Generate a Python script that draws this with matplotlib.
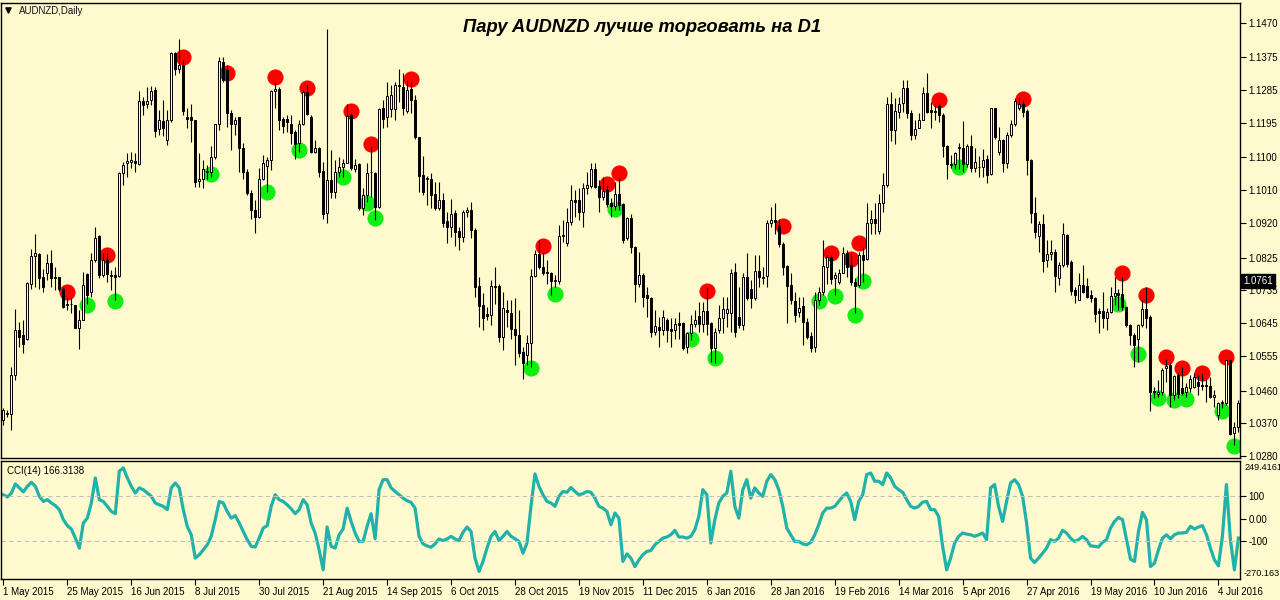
import numpy as np
import matplotlib
matplotlib.use('Agg')
import matplotlib.pyplot as plt

plt.rcParams['font.family'] = ['Liberation Sans', 'DejaVu Sans']

####################################################################################################

date_labels = ['1 May 2015', '25 May 2015', '16 Jun 2015', '8 Jul 2015', '30 Jul 2015', '21 Aug 2015',
               '14 Sep 2015', '6 Oct 2015', '28 Oct 2015', '19 Nov 2015', '11 Dec 2015', '6 Jan 2016',
               '28 Jan 2016', '19 Feb 2016', '14 Mar 2016', '5 Apr 2016', '27 Apr 2016', '19 May 2016',
               '10 Jun 2016', '4 Jul 2016']

price_labels = ['1.1470', '1.1375', '1.1285', '1.1195', '1.1100', '1.1010', '1.0920',
                '1.0825', '1.0735', '1.0645', '1.0555', '1.0460', '1.0370', '1.0280']

opens = [
    1.0379, 1.0399, 1.0395, 1.0504, 1.0626, 1.0612, 1.0603, 1.0754, 1.0830, 1.0834,
    1.0772, 1.0784, 1.0809, 1.0772, 1.0771, 1.0738, 1.0694, 1.0699, 1.0694, 1.0633,
    1.0655, 1.0780, 1.0731, 1.0818, 1.0884, 1.0777, 1.0818, 1.0777, 1.0777, 1.0775,
    1.1056, 1.1086, 1.1088, 1.1090, 1.1082, 1.1255, 1.1246, 1.1257, 1.1285, 1.1177,
    1.1200, 1.1149, 1.1203, 1.1388, 1.1344, 1.1353, 1.1210, 1.1210, 1.1203, 1.1036,
    1.1040, 1.1063, 1.1061, 1.1100, 1.1191, 1.1363, 1.1340, 1.1221, 1.1193, 1.1210,
    1.1125, 1.1061, 1.1003, 1.0957, 1.0937, 1.1040, 1.1077, 1.1093, 1.1282, 1.1289,
    1.1206, 1.1206, 1.1192, 1.1170, 1.1140, 1.1193, 1.1280, 1.1212, 1.1116, 1.1125,
    1.1063, 1.0948, 1.1038, 1.1006, 1.1059, 1.1073, 1.1086, 1.1216, 1.1067, 1.1082,
    1.0960, 1.0997, 1.1059, 1.1056, 1.0965, 1.1235, 1.1212, 1.1232, 1.1232, 1.1299,
    1.1294, 1.1228, 1.1287, 1.1259, 1.1155, 1.1052, 1.1040, 1.1040, 1.1001, 1.0960,
    1.0983, 1.0925, 1.0908, 1.0948, 1.0899, 1.0882, 1.0949, 1.0955, 1.0902, 1.0747,
    1.0695, 1.0669, 1.0667, 1.0747, 1.0747, 1.0606, 1.0681, 1.0672, 1.0628, 1.0612,
    1.0567, 1.0557, 1.0590, 1.0774, 1.0834, 1.0798, 1.0786, 1.0782, 1.0762, 1.0761,
    1.0884, 1.0866, 1.0923, 1.0983, 1.0983, 1.0951, 1.1017, 1.1022, 1.1067, 1.1022,
    1.0992, 1.1010, 1.0974, 1.0967, 1.1001, 1.0971, 1.0878, 1.0933, 1.0855, 1.0754,
    1.0777, 1.0722, 1.0713, 1.0622, 1.0635, 1.0626, 1.0654, 1.0628, 1.0626, 1.0645,
    1.0645, 1.0580, 1.0617, 1.0644, 1.0664, 1.0644, 1.0678, 1.0645, 1.0576, 1.0626,
    1.0660, 1.0672, 1.0672, 1.0786, 1.0663, 1.0640, 1.0771, 1.0740, 1.0715, 1.0789,
    1.0773, 1.0774, 1.0919, 1.0928, 1.0912, 1.0862, 1.0802, 1.0750, 1.0706, 1.0676,
    1.0692, 1.0649, 1.0610, 1.0580, 1.0708, 1.0731, 1.0800, 1.0826, 1.0768, 1.0759,
    1.0784, 1.0837, 1.0804, 1.0759, 1.0750, 1.0832, 1.0820, 1.0919, 1.0930, 1.0899,
    1.0974, 1.1024, 1.1246, 1.1175, 1.1226, 1.1250, 1.1291, 1.1223, 1.1161, 1.1182,
    1.1204, 1.1278, 1.1230, 1.1228, 1.1241, 1.1216, 1.1131, 1.1081, 1.1081, 1.1125,
    1.1125, 1.1082, 1.1131, 1.1070, 1.1075, 1.1073, 1.1095, 1.1054, 1.1235, 1.1116,
    1.1148, 1.1085, 1.1163, 1.1191, 1.1237, 1.1248, 1.1228, 1.1093, 1.0948, 1.0884,
    1.0916, 1.0818, 1.0834, 1.0841, 1.0768, 1.0806, 1.0887, 1.0812, 1.0736, 1.0710,
    1.0750, 1.0748, 1.0722, 1.0713, 1.0678, 1.0679, 1.0658, 1.0676, 1.0719, 1.0727,
    1.0725, 1.0690, 1.0640, 1.0612, 1.0601, 1.0640, 1.0683, 1.0663, 1.0459, 1.0452,
    1.0457, 1.0521, 1.0530, 1.0448, 1.0502, 1.0466, 1.0457, 1.0466, 1.0471, 1.0484,
    1.0475, 1.0475, 1.0473, 1.0443, 1.0393, 1.0425, 1.0425, 1.0544, 1.0344, 1.0361]

highs = [
    1.0411, 1.0406, 1.0525, 1.0683, 1.0649, 1.0654, 1.0759, 1.0850, 1.0891, 1.0838,
    1.0795, 1.0834, 1.0846, 1.0800, 1.0773, 1.0745, 1.0713, 1.0713, 1.0695, 1.0681,
    1.0786, 1.0782, 1.0837, 1.0910, 1.0887, 1.0837, 1.0837, 1.0791, 1.0800, 1.1061,
    1.1088, 1.1111, 1.1116, 1.1113, 1.1282, 1.1267, 1.1294, 1.1296, 1.1294, 1.1230,
    1.1259, 1.1230, 1.1390, 1.1390, 1.1425, 1.1367, 1.1235, 1.1248, 1.1204, 1.1113,
    1.1093, 1.1079, 1.1131, 1.1193, 1.1375, 1.1375, 1.1353, 1.1230, 1.1212, 1.1212,
    1.1140, 1.1067, 1.1010, 1.0983, 1.1070, 1.1106, 1.1102, 1.1285, 1.1308, 1.1294,
    1.1212, 1.1216, 1.1216, 1.1175, 1.1203, 1.1285, 1.1299, 1.1216, 1.1148, 1.1130,
    1.1088, 1.1454, 1.1120, 1.1093, 1.1102, 1.1097, 1.1248, 1.1221, 1.1095, 1.1084,
    1.1015, 1.1084, 1.1129, 1.1061, 1.1235, 1.1257, 1.1308, 1.1299, 1.1308, 1.1344,
    1.1331, 1.1312, 1.1308, 1.1271, 1.1157, 1.1104, 1.1049, 1.1056, 1.1033, 1.1033,
    1.1003, 1.0951, 1.0985, 1.0955, 1.0908, 1.0955, 1.0965, 1.0978, 1.0905, 1.0773,
    1.0727, 1.0690, 1.0763, 1.0800, 1.0754, 1.0731, 1.0708, 1.0708, 1.0713, 1.0681,
    1.0580, 1.0612, 1.0795, 1.0846, 1.0873, 1.0837, 1.0818, 1.0786, 1.0777, 1.0914,
    1.0928, 1.0960, 1.1024, 1.1010, 1.1015, 1.1029, 1.1061, 1.1084, 1.1084, 1.1038,
    1.1047, 1.1024, 1.0988, 1.1033, 1.1042, 1.0976, 1.0937, 1.0946, 1.0857, 1.0841,
    1.0782, 1.0745, 1.0718, 1.0681, 1.0663, 1.0681, 1.0658, 1.0658, 1.0658, 1.0676,
    1.0649, 1.0622, 1.0667, 1.0681, 1.0704, 1.0704, 1.0745, 1.0649, 1.0631, 1.0695,
    1.0718, 1.0718, 1.0795, 1.0809, 1.0745, 1.0782, 1.0837, 1.0763, 1.0832, 1.0832,
    1.0800, 1.0928, 1.0965, 1.0974, 1.0930, 1.0869, 1.0805, 1.0782, 1.0731, 1.0718,
    1.0718, 1.0658, 1.0622, 1.0731, 1.0745, 1.0873, 1.0832, 1.0832, 1.0786, 1.0795,
    1.0855, 1.0846, 1.0837, 1.0768, 1.0841, 1.0855, 1.0974, 1.0955, 1.0974, 1.1001,
    1.1056, 1.1267, 1.1280, 1.1262, 1.1267, 1.1312, 1.1314, 1.1230, 1.1203, 1.1221,
    1.1294, 1.1331, 1.1253, 1.1244, 1.1248, 1.1221, 1.1134, 1.1106, 1.1116, 1.1140,
    1.1201, 1.1137, 1.1161, 1.1125, 1.1104, 1.1122, 1.1106, 1.1237, 1.1237, 1.1184,
    1.1152, 1.1170, 1.1203, 1.1262, 1.1267, 1.1259, 1.1232, 1.1095, 1.0992, 1.0925,
    1.0946, 1.0873, 1.0873, 1.0850, 1.0814, 1.0921, 1.0891, 1.0818, 1.0745, 1.0782,
    1.0805, 1.0768, 1.0736, 1.0718, 1.0686, 1.0731, 1.0686, 1.0745, 1.0773, 1.0738,
    1.0773, 1.0692, 1.0644, 1.0617, 1.0644, 1.0708, 1.0745, 1.0667, 1.0471, 1.0489,
    1.0521, 1.0548, 1.0535, 1.0502, 1.0507, 1.0525, 1.0480, 1.0502, 1.0509, 1.0502,
    1.0507, 1.0493, 1.0498, 1.0461, 1.0430, 1.0434, 1.0544, 1.0548, 1.0374, 1.0434]

lows = [
    1.0365, 1.0388, 1.0353, 1.0489, 1.0580, 1.0562, 1.0600, 1.0740, 1.0745, 1.0738,
    1.0731, 1.0763, 1.0745, 1.0736, 1.0734, 1.0686, 1.0681, 1.0672, 1.0631, 1.0573,
    1.0654, 1.0699, 1.0718, 1.0814, 1.0768, 1.0773, 1.0759, 1.0736, 1.0708, 1.0773,
    1.1024, 1.1047, 1.1070, 1.1061, 1.1079, 1.1216, 1.1235, 1.1244, 1.1157, 1.1161,
    1.1159, 1.1134, 1.1198, 1.1326, 1.1331, 1.1216, 1.1180, 1.1143, 1.1018, 1.1020,
    1.1015, 1.1040, 1.1047, 1.1097, 1.1175, 1.1308, 1.1184, 1.1120, 1.1161, 1.1061,
    1.1042, 1.0997, 1.0930, 1.0893, 1.0933, 1.1038, 1.1006, 1.1065, 1.1237, 1.1175,
    1.1166, 1.1170, 1.1138, 1.1097, 1.1116, 1.1189, 1.1216, 1.1111, 1.1111, 1.1047,
    1.0930, 1.0919, 1.0988, 1.0988, 1.1047, 1.1047, 1.1084, 1.1065, 1.1061, 1.0956,
    1.0942, 1.0978, 1.0992, 1.0928, 1.0960, 1.1182, 1.1184, 1.1212, 1.1203, 1.1253,
    1.1216, 1.1221, 1.1221, 1.1152, 1.1006, 1.0997, 1.0969, 1.0960, 1.0956, 1.0956,
    1.0910, 1.0864, 1.0882, 1.0857, 1.0846, 1.0869, 1.0937, 1.0878, 1.0718, 1.0635,
    1.0626, 1.0654, 1.0640, 1.0699, 1.0594, 1.0571, 1.0635, 1.0603, 1.0530, 1.0553,
    1.0493, 1.0530, 1.0525, 1.0772, 1.0795, 1.0777, 1.0754, 1.0722, 1.0745, 1.0754,
    1.0869, 1.0857, 1.0914, 1.0937, 1.0928, 1.0910, 1.1001, 1.1015, 1.1015, 1.0951,
    1.0983, 1.0965, 1.0937, 1.0956, 1.0956, 1.0866, 1.0873, 1.0837, 1.0704, 1.0745,
    1.0690, 1.0663, 1.0608, 1.0612, 1.0580, 1.0612, 1.0594, 1.0580, 1.0603, 1.0603,
    1.0571, 1.0562, 1.0599, 1.0635, 1.0622, 1.0622, 1.0612, 1.0539, 1.0535, 1.0617,
    1.0617, 1.0635, 1.0622, 1.0606, 1.0631, 1.0626, 1.0708, 1.0686, 1.0708, 1.0745,
    1.0754, 1.0745, 1.0910, 1.0891, 1.0855, 1.0777, 1.0646, 1.0699, 1.0649, 1.0663,
    1.0585, 1.0603, 1.0567, 1.0567, 1.0695, 1.0722, 1.0754, 1.0754, 1.0722, 1.0754,
    1.0782, 1.0773, 1.0750, 1.0672, 1.0745, 1.0759, 1.0818, 1.0891, 1.0891, 1.0891,
    1.0951, 1.1020, 1.1146, 1.1137, 1.1207, 1.1226, 1.1207, 1.1148, 1.1152, 1.1180,
    1.1203, 1.1221, 1.1180, 1.1203, 1.1198, 1.1102, 1.1042, 1.1070, 1.1067, 1.1067,
    1.1061, 1.1074, 1.1061, 1.1061, 1.1047, 1.1047, 1.1031, 1.1052, 1.1152, 1.1106,
    1.1061, 1.1070, 1.1157, 1.1186, 1.1230, 1.1212, 1.1052, 1.0921, 1.0878, 1.0841,
    1.0786, 1.0800, 1.0818, 1.0731, 1.0750, 1.0800, 1.0800, 1.0722, 1.0701, 1.0708,
    1.0729, 1.0713, 1.0704, 1.0649, 1.0617, 1.0631, 1.0626, 1.0672, 1.0695, 1.0681,
    1.0681, 1.0635, 1.0585, 1.0525, 1.0539, 1.0635, 1.0631, 1.0405, 1.0439, 1.0443,
    1.0448, 1.0484, 1.0416, 1.0434, 1.0439, 1.0448, 1.0443, 1.0457, 1.0466, 1.0448,
    1.0461, 1.0429, 1.0439, 1.0416, 1.0379, 1.0411, 1.0420, 1.0338, 1.0310, 1.0347]

closes = [
    1.0408, 1.0395, 1.0504, 1.0626, 1.0608, 1.0587, 1.0756, 1.0829, 1.0837, 1.0770,
    1.0745, 1.0809, 1.0770, 1.0768, 1.0738, 1.0690, 1.0699, 1.0697, 1.0633, 1.0654,
    1.0750, 1.0722, 1.0818, 1.0880, 1.0777, 1.0818, 1.0780, 1.0775, 1.0773, 1.1056,
    1.1079, 1.1090, 1.1093, 1.1086, 1.1255, 1.1244, 1.1255, 1.1282, 1.1173, 1.1203,
    1.1180, 1.1204, 1.1388, 1.1344, 1.1353, 1.1228, 1.1206, 1.1203, 1.1033, 1.1042,
    1.1067, 1.1060, 1.1102, 1.1191, 1.1364, 1.1312, 1.1221, 1.1193, 1.1204, 1.1125,
    1.1061, 1.1003, 1.0957, 1.0937, 1.1040, 1.1084, 1.1093, 1.1282, 1.1289, 1.1204,
    1.1186, 1.1198, 1.1168, 1.1138, 1.1193, 1.1280, 1.1219, 1.1116, 1.1125, 1.1061,
    1.0944, 1.1038, 1.1006, 1.1059, 1.1073, 1.1086, 1.1214, 1.1070, 1.1079, 1.0960,
    1.0997, 1.1056, 1.1061, 1.0965, 1.1232, 1.1205, 1.1268, 1.1271, 1.1299, 1.1296,
    1.1235, 1.1285, 1.1259, 1.1155, 1.1050, 1.1006, 1.1043, 1.0997, 1.0960, 1.0983,
    1.0921, 1.0908, 1.0944, 1.0896, 1.0882, 1.0949, 1.0955, 1.0902, 1.0745, 1.0692,
    1.0658, 1.0665, 1.0747, 1.0744, 1.0606, 1.0686, 1.0676, 1.0628, 1.0612, 1.0562,
    1.0535, 1.0590, 1.0774, 1.0834, 1.0798, 1.0784, 1.0782, 1.0762, 1.0764, 1.0884,
    1.0888, 1.0923, 1.0983, 1.0979, 1.0951, 1.1017, 1.1024, 1.1067, 1.1020, 1.0992,
    1.1008, 1.0971, 1.0967, 1.1001, 1.0969, 1.0873, 1.0933, 1.0855, 1.0754, 1.0777,
    1.0718, 1.0713, 1.0622, 1.0637, 1.0626, 1.0661, 1.0626, 1.0624, 1.0644, 1.0640,
    1.0576, 1.0617, 1.0644, 1.0655, 1.0644, 1.0678, 1.0644, 1.0576, 1.0622, 1.0660,
    1.0683, 1.0683, 1.0783, 1.0620, 1.0640, 1.0773, 1.0713, 1.0713, 1.0789, 1.0773,
    1.0770, 1.0919, 1.0928, 1.0923, 1.0862, 1.0800, 1.0747, 1.0708, 1.0667, 1.0688,
    1.0649, 1.0608, 1.0576, 1.0708, 1.0731, 1.0802, 1.0826, 1.0765, 1.0777, 1.0784,
    1.0837, 1.0800, 1.0759, 1.0747, 1.0832, 1.0818, 1.0919, 1.0930, 1.0919, 1.0974,
    1.1024, 1.1246, 1.1175, 1.1227, 1.1248, 1.1291, 1.1223, 1.1161, 1.1177, 1.1203,
    1.1278, 1.1225, 1.1225, 1.1225, 1.1216, 1.1131, 1.1081, 1.1078, 1.1111, 1.1128,
    1.1082, 1.1131, 1.1070, 1.1088, 1.1073, 1.1093, 1.1052, 1.1235, 1.1155, 1.1148,
    1.1085, 1.1163, 1.1191, 1.1255, 1.1248, 1.1225, 1.1093, 1.0948, 1.0896, 1.0916,
    1.0816, 1.0834, 1.0840, 1.0774, 1.0806, 1.0889, 1.0807, 1.0734, 1.0722, 1.0750,
    1.0731, 1.0716, 1.0713, 1.0670, 1.0674, 1.0658, 1.0676, 1.0719, 1.0727, 1.0722,
    1.0690, 1.0640, 1.0612, 1.0585, 1.0640, 1.0683, 1.0658, 1.0457, 1.0455, 1.0457,
    1.0516, 1.0528, 1.0448, 1.0500, 1.0452, 1.0454, 1.0471, 1.0493, 1.0496, 1.0473,
    1.0473, 1.0473, 1.0443, 1.0448, 1.0425, 1.0430, 1.0544, 1.0342, 1.0359, 1.0427]

cci = [
    107, 97, 115, 156, 138, 120, 145, 163, 145, 100,
    77, 85, 70, 58, 40, -5, -32, -47, -88, -133,
    -20, 2, 70, 183, 85, 77, 55, 32, 22, 213,
    228, 183, 145, 115, 138, 130, 115, 100, 70, 62,
    55, 40, 138, 160, 138, 40, -35, -73, -178, -163,
    -141, -118, -80, -5, 77, 70, 32, 2, 13, -20,
    -58, -95, -125, -128, -88, -43, -32, 55, 107, 85,
    77, 62, 44, 22, 40, 85, 62, -20, -65, -141,
    -231, -38, -125, -133, -73, -47, 47, -13, -65, -103,
    -103, -35, 22, -91, 130, 175, 175, 138, 122, 107,
    92, 80, 73, 47, -80, -114, -123, -129, -114, -92,
    -99, -92, -80, -92, -99, -62, -38, -58, -178, -238,
    -193, -133, -80, -58, -99, -80, -58, -80, -91, -103,
    -156, -110, 55, 201, 145, 107, 77, 70, 55, 100,
    122, 118, 140, 122, 107, 112, 122, 118, 92, 55,
    47, 32, -28, 25, 2, -193, -159, -178, -216, -186,
    -163, -148, -144, -118, -103, -88, -83, -73, -53, -83,
    -83, -88, -80, -50, 10, 130, 107, -110, -5, 70,
    100, 115, 213, 55, 2, 130, 175, 92, 138, 115,
    100, 168, 198, 175, 130, 55, -43, -73, -103, -103,
    -114, -118, -107, -73, -28, 25, 47, 47, 55, 77,
    100, 115, 77, -5, 77, 107, 198, 205, 168, 168,
    153, 205, 183, 145, 130, 118, 85, 55, 47, 55,
    74, 77, 40, 40, 10, -125, -231, -178, -110, -80,
    -65, -70, -73, -80, -73, -65, -95, 138, 153, 55,
    -13, 77, 160, 175, 153, 100, -20, -178, -198, -178,
    -156, -133, -95, -103, -88, -53, -65, -88, -103, -95,
    -80, -95, -123, -125, -128, -107, -95, -43, -13, 5,
    -5, -95, -183, -193, -58, 28, -5, -216, -201, -141,
    -88, -73, -91, -73, -65, -65, -62, -35, -47, -38,
    -32, -73, -133, -186, -213, -80, 153, -95, -231, -88]

red_bars = [16, 26, 45, 56, 68, 76, 87, 92, 102, 135, 151, 154, 176, 195, 207, 212, 214,
            234, 255, 280, 286, 291, 295, 300, 306]
red_prices = [1.0731, 1.0832, 1.1376, 1.1332, 1.1321, 1.1291, 1.1228, 1.1137, 1.1315, 1.0857,
              1.1026, 1.1056, 1.0734, 1.0912, 1.0839, 1.0820, 1.0864, 1.1257, 1.1261, 1.0783,
              1.0723, 1.0553, 1.0523, 1.0507, 1.0553]
green_bars = [21, 28, 52, 66, 74, 85, 91, 93, 132, 138, 153, 172, 178, 204, 208, 213, 215,
              239, 279, 284, 289, 293, 296, 305, 308]
green_prices = [1.0695, 1.0706, 1.1054, 1.1005, 1.1120, 1.1047, 1.0974, 1.0933, 1.0521, 1.0725,
                1.0958, 1.0603, 1.0550, 1.0706, 1.0721, 1.0668, 1.0761, 1.1074, 1.0697, 1.0560,
                1.0441, 1.0434, 1.0438, 1.0405, 1.0308]

####################################################################################################

BG = '#FFFACD'
W, H = 1280., 600.

def box(x0, y0, x1, y1):
    return [x0 / W, 1 - y1 / H, (x1 - x0) / W, (y1 - y0) / H]

fig = plt.figure(figsize=(12.8, 6), dpi=100, facecolor=BG)
ax = fig.add_axes(box(1, 3, 1240, 458), facecolor=BG)
ax2 = fig.add_axes(box(1, 461, 1240, 579), facecolor=BG)

o = np.array(opens)
h = np.array(highs)
l = np.array(lows)
c = np.array(closes)
x = np.arange(len(c))
up = c >= o

ax.vlines(x, l, h, color='black', linewidth=0.8, zorder=3)
ax.bar(x, np.abs(c - o), bottom=np.minimum(o, c), width=0.5,
       color=np.where(up, BG, 'black'), edgecolor='black', linewidth=0.7, zorder=4)

ax.scatter(red_bars, red_prices, s=135, color='#FF0000', linewidths=0, zorder=2)
ax.scatter(green_bars, green_prices, s=135, color='#11EE11', linewidths=0, zorder=2)

ax.set_xlim(-0.6, 309.4)
ax.set_ylim(1.0275, 1.1524)
ax.set_xticks([])
ax.yaxis.tick_right()
ax.set_yticks([float(p) for p in price_labels])
ax.set_yticklabels(price_labels)
ax.tick_params(axis='y', direction='out', length=4, width=0.8, pad=2, labelsize=7)
for s in ax.spines.values():
    s.set_linewidth(1.0)

ax.scatter([0.006], [0.985], marker='v', s=14, color='black', transform=ax.transAxes)
fig.text(19 / W, 1 - 11 / H, 'AUDNZD,Daily', fontsize=7, va='center', color='#111111')
fig.text(642 / W, 1 - 28 / H, 'Пару AUDNZD лучше торговать на D1', ha='center', va='center',
         fontsize=13.2, fontweight='bold', fontstyle='italic')
fig.text(1243 / W, 1 - 281 / H, '1.0761', fontsize=7, va='center', color='white',
         bbox=dict(boxstyle='square,pad=0.22', fc='black', ec='black'))

# CCI panel
ax2.plot(x, cci, color='#20B2AA', linewidth=2.3)
ax2.axhline(100, color='#C0C0C0', linewidth=0.8, linestyle=(0, (4, 3)))
ax2.axhline(-100, color='#C0C0C0', linewidth=0.8, linestyle=(0, (4, 3)))
ax2.set_xlim(-0.6, 309.4)
ax2.set_ylim(-272, 259)
ax2.yaxis.tick_right()
ax2.set_yticks([100, 0, -100])
ax2.set_yticklabels(['100', '0.00', '-100'])
ax2.set_xticks(np.arange(len(date_labels)) * 16)
ax2.set_xticklabels(date_labels, ha='left')
ax2.tick_params(axis='both', direction='out', length=4, width=0.8, pad=2, labelsize=7)
for s in ax2.spines.values():
    s.set_linewidth(1.0)

fig.text(7 / W, 1 - 471 / H, 'CCI(14) 166.3138', fontsize=7, va='center')
fig.text(1244 / W, 1 - 468 / H, '249.4161', fontsize=6.6, va='center')
fig.text(1244 / W, 1 - 573 / H, '-270.163', fontsize=6.6, va='center')

fig.savefig('out.png', dpi=100, facecolor=BG)
